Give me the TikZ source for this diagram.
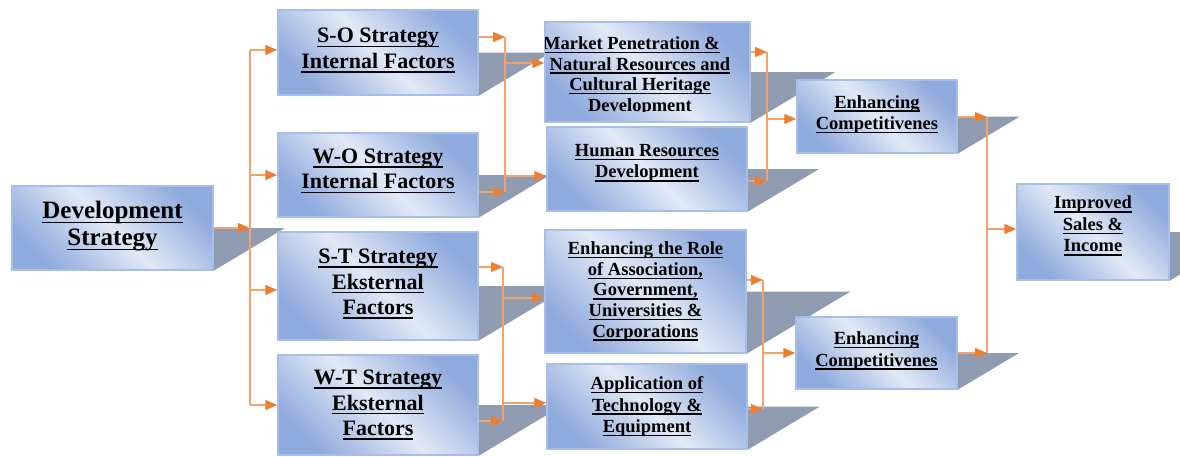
\documentclass[tikz,border=0pt]{standalone}
\usepackage{fontspec}
\setmainfont{Liberation Serif}
\usetikzlibrary{arrows.meta,calc}

\definecolor{boxdark}{HTML}{8FAADC}
\definecolor{boxlight}{HTML}{E2E9F6}
\definecolor{boxline}{HTML}{A6BEE8}
\definecolor{shadowc}{HTML}{8E9BB0}
\definecolor{linec}{HTML}{F4A16A}
\definecolor{arrc}{HTML}{ED7D31}

% underlined line of text, rule placed below the baseline
\newcommand\ulx[1]{\setbox0\hbox{#1}\rlap{\rule[-0.2em]{\wd0}{0.075em}}\box0}
\newcommand\fsz[2]{\fontsize{#1}{#2}\selectfont}
% invisible strut that deepens the last line, lifting the text block
\newcommand\lift[1]{\rule[-#1]{0pt}{1pt}}

\pgfdeclarelayer{bg}
\pgfsetlayers{bg,main}

% slanted drop shadow behind the right edge of a box
\newcommand\dropshade[1]{%
  \begin{pgfonlayer}{bg}
  \fill[shadowc] let \p1=(#1.east), \p2=(#1.south east) in
    (\p1) -- ({\x1+1.67*(\y1-\y2)},\y1) -- (\p2) -- cycle;
  \end{pgfonlayer}}

\tikzset{
  box/.style={rectangle, draw=boxline, line width=1.4pt,
    top color=boxdark, bottom color=boxdark, middle color=boxlight,
    shading angle=-45, align=center, inner sep=0pt},
  big/.style={font=\bfseries\fsz{25}{27}},
  mid/.style={font=\bfseries\fsz{22}{25.5}},
  small/.style={font=\bfseries\fsz{18.5}{21.5}},
  tight/.style={font=\bfseries\fsz{18.5}{20.6}},
  conn/.style={draw=linec, line width=1.3pt, -{Triangle[length=12pt,width=10pt,color=arrc]}},
  bus/.style={draw=linec, line width=1.3pt}
}

\begin{document}
\begin{tikzpicture}[x=1pt,y=-1pt]
\useasboundingbox (0,0) rectangle (1180,456);
\clip (0,0) rectangle (1180,456);

% ---- boxes ----
\node[box, big, minimum width=201pt, minimum height=84pt] (dev) at (112.5,228)
  {\ulx{Development}\\\ulx{Strategy}\lift{9.5pt}};

\node[box, mid, minimum width=200pt, minimum height=85pt] (so) at (378,52.5)
  {\ulx{S-O Strategy}\\\ulx{Internal Factors}\lift{8.5pt}};
\node[box, mid, minimum width=200pt, minimum height=84pt] (wo) at (378,175)
  {\ulx{W-O Strategy}\\\ulx{Internal Factors}\lift{12.5pt}};
\node[box, mid, minimum width=200pt, minimum height=108pt] (st) at (378,286)
  {\ulx{S-T Strategy}\\\ulx{Eksternal}\\\ulx{Factors}\lift{8.5pt}};
\node[box, mid, minimum width=200pt, minimum height=100pt] (wt) at (378,405)
  {\ulx{W-T Strategy}\\\ulx{Eksternal}\\\ulx{Factors}};

\node[box, minimum width=205pt, minimum height=100pt] (mp) at (647.5,72) {};
\begin{scope}
  \clip (545,22) rectangle (750,111);
  \node[tight, align=center, inner sep=0pt, anchor=north] (mptext) at (640,36.5)
    {\ulx{Market Penetration \&}\hspace*{17pt}\\\ulx{Natural Resources and}\\\ulx{Cultural Heritage}\\\ulx{Development}};
\end{scope}
\node[box, small, minimum width=200pt, minimum height=84pt] (hr) at (647,169)
  {\ulx{Human Resources}\\\ulx{Development}\lift{16pt}};
\node[box, tight, minimum width=201pt, minimum height=123pt] (er) at (645.5,291.5)
  {\ulx{Enhancing the Role}\\\ulx{of Association,}\\\ulx{Government,}\\\ulx{Universities \&}\\\ulx{Corporations}};
\node[box, small, minimum width=200pt, minimum height=85pt] (ap) at (647,406.5)
  {\ulx{Application of}\\\ulx{Technology \&}\\\ulx{Equipment}};

\node[box, small, minimum width=160pt, minimum height=73pt] (c1) at (877,116.5)
  {\ulx{Enhancing}\\\ulx{Competitivenes}\lift{8pt}};
\node[box, small, minimum width=161pt, minimum height=72pt] (c2) at (876.5,353)
  {\ulx{Enhancing}\\\ulx{Competitivenes}\lift{8pt}};

\node[box, small, minimum width=152pt, minimum height=96pt] (is) at (1093,232)
  {\ulx{Improved}\\\ulx{Sales \&}\\\ulx{Income}\lift{16pt}};

% ---- shadows ----
\foreach \bx in {dev,so,wo,st,wt,mp,hr,er,ap,c1,c2,is} {\dropshade{\bx}}

% ---- junction points of the connector buses ----
\coordinate (a1) at (250,50);   \coordinate (a2) at (250,175);
\coordinate (a3) at (250,228);  \coordinate (a4) at (250,290);
\coordinate (a5) at (250,405);

\coordinate (b1) at (505,37);   \coordinate (b2) at (505,63);
\coordinate (b3) at (505,176);  \coordinate (b4) at (505,192);

\coordinate (c1t) at (503,267); \coordinate (c2t) at (503,298);
\coordinate (c3t) at (503,403); \coordinate (c4t) at (503,421);

\coordinate (d1) at (767,52);   \coordinate (d2) at (767,119);
\coordinate (d3) at (767,181);

\coordinate (e1) at (763,280);  \coordinate (e2) at (763,353);
\coordinate (e3) at (763,409);

\coordinate (f1) at (987,117);  \coordinate (f2) at (987,229);
\coordinate (f3) at (987,353);

% ---- connectors ----
\draw[conn] (dev.east) -- (a3);
\draw[bus] (a1) -- (a5);
\draw[conn] (a1) -- (a1 -| so.west);
\draw[conn] (a2) -- (a2 -| wo.west);
\draw[conn] (a4) -- (a4 -| st.west);
\draw[conn] (a5) -- (a5 -| wt.west);

\draw[conn] (b1 -| so.east) -- (b1);
\draw[conn] (b4 -| wo.east) -- (b4);
\draw[bus] (b1) -- (b4);
\draw[conn] (b2) -- (b2 -| mp.west);
\draw[conn] (b3) -- (b3 -| hr.west);

\draw[conn] (c1t -| st.east) -- (c1t);
\draw[conn] (c4t -| wt.east) -- (c4t);
\draw[bus] (c1t) -- (c4t);
\draw[conn] (c2t) -- (c2t -| er.west);
\draw[conn] (c3t) -- (c3t -| ap.west);

\draw[conn] (d1 -| mp.east) -- (d1);
\draw[conn] (d3 -| hr.east) -- (d3);
\draw[bus] (d1) -- (d3);
\draw[conn] (d2) -- (d2 -| c1.west);

\draw[conn] (e1 -| er.east) -- (e1);
\draw[conn] (e3 -| ap.east) -- (e3);
\draw[bus] (e1) -- (e3);
\draw[conn] (e2) -- (e2 -| c2.west);

\draw[conn] (f1 -| c1.east) -- (f1);
\draw[conn] (f3 -| c2.east) -- (f3);
\draw[bus] (f1) -- (f3);
\draw[conn] (f2) -- (f2 -| is.west);
\end{tikzpicture}
\end{document}
